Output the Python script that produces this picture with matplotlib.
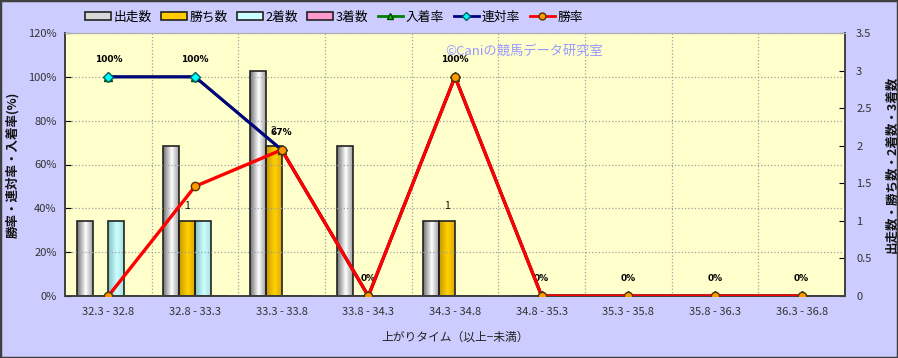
import numpy as np
import matplotlib.pyplot as plt
from matplotlib.colors import LinearSegmentedColormap
from matplotlib.patches import Patch, Rectangle
from matplotlib.lines import Line2D

plt.rcParams['font.family'] = ['Noto Sans CJK JP', 'DejaVu Sans']

# 上がりタイム区分
time_bins = ['32.3 - 32.8', '32.8 - 33.3', '33.3 - 33.8', '33.8 - 34.3', '34.3 - 34.8',
             '34.8 - 35.3', '35.3 - 35.8', '35.8 - 36.3', '36.3 - 36.8']
starts = [1, 2, 3, 2, 1, 0, 0, 0, 0]          # 出走数
wins = [0, 1, 2, 0, 1, 0, 0, 0, 0]            # 勝ち数
seconds = [1, 1, 0, 0, 0, 0, 0, 0, 0]         # 2着数
thirds = [0, 0, 0, 0, 0, 0, 0, 0, 0]          # 3着数
win_rate = [0, 50, 66.7, 0, 100, 0, 0, 0, 0]          # 勝率
rentai_rate = [100, 100, 66.7, 0, 100, 0, 0, 0, 0]    # 連対率
place_rate = [100, 100, 66.7, 0, 100, 0, 0, 0, 0]     # 入着率

W, H = 898, 358
fig = plt.figure(figsize=(W / 100, H / 100), dpi=100, facecolor='#ccccff')
fig.patches.append(Rectangle((0, 0), 1, 1, transform=fig.transFigure, fill=False,
                             edgecolor='#404040', linewidth=2.5))

ax_bar = fig.add_axes([65 / W, 1 - 296 / H, 780 / W, 263 / H])
ax_bar.set_facecolor('#ffffcc')
ax_line = ax_bar.twinx()

x = np.arange(len(time_bins))
bw = 0.182

# グラデーション付きの棒
def grad_cmap(c_dark, c_light, c_mid):
    return LinearSegmentedColormap.from_list('g', [(0, c_dark), (0.55, c_light), (1, c_mid)])

series = [
    (starts, grad_cmap('#707070', '#ffffff', '#a0a0a0'), '#d8d8d8', '出走数'),
    (wins, grad_cmap('#c89600', '#ffd200', '#e0a800'), '#ffcc00', '勝ち数'),
    (seconds, grad_cmap('#80c0c0', '#ccffff', '#a8e0e0'), '#ccffff', '2着数'),
    (thirds, grad_cmap('#c06090', '#ff99cc', '#e080b0'), '#ff99cc', '3着数'),
]
grad = np.linspace(0, 1, 64).reshape(1, -1)
for k, (vals, cmap, col, name) in enumerate(series):
    pos = x + (k - 1.5) * bw
    bars = ax_bar.bar(pos, vals, width=bw, facecolor='none', edgecolor='#222222',
                      linewidth=1.2, zorder=3)
    for r, v in zip(bars, vals):
        if v <= 0:
            continue
        im = ax_bar.imshow(grad, cmap=cmap, aspect='auto', zorder=2,
                           extent=[r.get_x(), r.get_x() + r.get_width(), 0, v])
        im.set_clip_path(r)

ax_bar.set_xlim(-0.5, len(time_bins) - 0.5)
ax_bar.set_ylim(0, 3.5)
ax_bar.set_yticks(np.arange(0, 3.51, 0.5))
ax_bar.set_yticklabels(['0', '0.5', '1', '1.5', '2', '2.5', '3', '3.5'])
ax_bar.yaxis.tick_right()
ax_bar.yaxis.set_label_position('right')
ax_bar.set_ylabel('出走数・勝ち数・2着数・3着数', rotation=90, fontsize=9,
                  fontweight='bold', labelpad=10, color='#111111')
ax_bar.set_xticks(x)
ax_bar.set_xticklabels(time_bins, fontsize=8, color='#333333')
ax_bar.set_xticks(np.arange(0.5, len(time_bins) - 0.5, 1), minor=True)
ax_bar.tick_params(axis='x', which='both', length=0, pad=8)
ax_bar.tick_params(axis='y', direction='in', length=4, labelsize=8, labelcolor='#333333', pad=8)
ax_bar.grid(axis='x', which='minor', color='#a0a0a0', linestyle=':', linewidth=0.9)
ax_bar.set_xlabel('上がりタイム（以上−未満）', fontsize=8.5, color='#222222', labelpad=10)

# 折れ線（率）
ax_line.plot(x, place_rate, color='#008000', linewidth=2, marker='^', markersize=6,
             markerfacecolor='#00cc00', markeredgecolor='#004000', zorder=4)
ax_line.plot(x, rentai_rate, color='#000080', linewidth=2.2, marker='D', markersize=5,
             markerfacecolor='#00ffff', markeredgecolor='#006060', zorder=5)
ax_line.plot(x, win_rate, color='#ff0000', linewidth=2.4, marker='o', markersize=6,
             markerfacecolor='#ff9900', markeredgecolor='#553300', zorder=6)

for xi, v in zip(x, rentai_rate):
    ax_line.annotate(f'{v:.0f}%', (xi, v), xytext=(0, 12.5), textcoords='offset points',
                     ha='center', va='center', fontsize=6.5, fontweight='bold',
                     family='DejaVu Sans')
for xi, v in zip(x, wins):
    if v > 0:
        ax_line.annotate(f'{v}', (xi - 0.5 * bw, v * 120 / 3.5), xytext=(0, 10.5),
                         textcoords='offset points', ha='center', va='center',
                         fontsize=7.5, color='#111111')

ax_line.set_ylim(0, 120)
ax_line.set_yticks(np.arange(0, 121, 20))
ax_line.set_yticklabels([f'{t}%' for t in range(0, 121, 20)])
ax_line.yaxis.tick_left()
ax_line.yaxis.set_label_position('left')
ax_line.tick_params(axis='y', direction='in', length=4, labelsize=8, labelcolor='#333333', pad=6)
ax_line.grid(axis='y', color='#a0a0a0', linestyle=':', linewidth=0.9)
ax_line.set_ylabel('勝率・連対率・入着率(%)', fontsize=9, fontweight='bold',
                   labelpad=6, color='#111111')

for a in (ax_bar, ax_line):
    for s in ('left', 'right', 'bottom'):
        a.spines[s].set_color('#404040')
        a.spines[s].set_linewidth(1.2)
    a.spines['top'].set_color('#b0b0b0')

ax_line.text(0.487, 0.93, '©Caniの競馬データ研究室', transform=ax_line.transAxes,
             ha='left', va='center', fontsize=9.5, color='#9999ff', zorder=7)

handles = [Patch(facecolor=c, edgecolor='#222222', linewidth=1.2, label=n)
           for (_, _, c, n) in series]
handles += [
    Line2D([], [], color='#008000', linewidth=2, marker='^', markersize=5,
           markerfacecolor='#00cc00', markeredgecolor='#004000', label='入着率'),
    Line2D([], [], color='#000080', linewidth=2, marker='D', markersize=4,
           markerfacecolor='#00ffff', markeredgecolor='#006060', label='連対率'),
    Line2D([], [], color='#ff0000', linewidth=2, marker='o', markersize=5,
           markerfacecolor='#ff9900', markeredgecolor='#553300', label='勝率'),
]
fig.legend(handles=handles, loc='center left', bbox_to_anchor=(80 / W, 1 - 17 / H),
           ncol=7, frameon=False, fontsize=9.2, handlelength=2.0, handleheight=0.6,
           handletextpad=0.2, columnspacing=0.75, borderaxespad=0)

fig.savefig('out.png', dpi=100, facecolor=fig.get_facecolor())
